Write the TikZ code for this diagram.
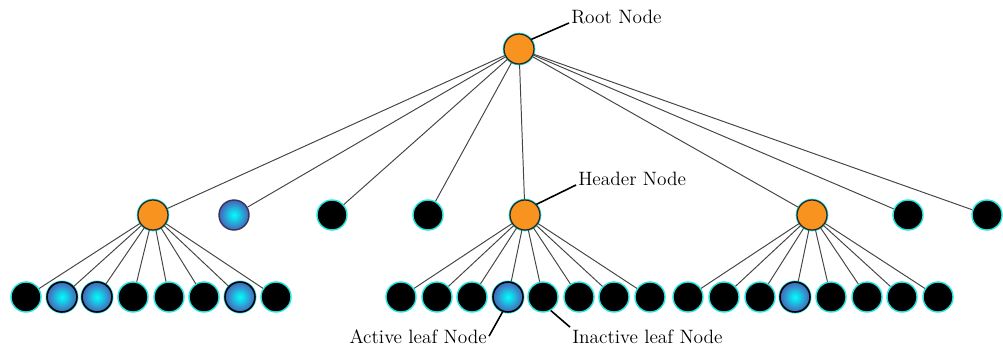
\documentclass[tikz,border=0pt]{standalone}
\usetikzlibrary{positioning}
\definecolor{corange}{HTML}{F7931E}
\definecolor{cring}{HTML}{22E5E0}
\definecolor{cblue}{HTML}{4862B8}
\definecolor{cdark}{HTML}{34345E}
\definecolor{cedge}{HTML}{444444}
\tikzset{
  every picture/.style={line width=0.6pt},
  dot/.style={circle, inner sep=0pt, minimum size=0.6cm},
  header/.style={dot, fill=corange, draw=black!85, line width=0.7pt, preaction={draw=cring, line width=1.5pt}},
  leaf/.style={dot, fill=black, draw=cring, line width=0.8pt},
  active/.style={dot, inner color=cyan, outer color=cblue, draw=black, line width=0.9pt, preaction={draw=cring, line width=1.7pt}},
  spare/.style={dot, inner color=cyan, outer color=cblue, draw=cdark, line width=0.8pt},
  link/.style={draw=cedge, line width=0.55pt},
  pinline/.style={draw=black, line width=0.9pt},
  lbl/.style={font=\fontsize{11}{13}\selectfont, inner sep=1pt},
}

\begin{document}
\begin{tikzpicture}[x=0.02cm, y=-0.02cm]
  \useasboundingbox (0,0) rectangle (1003,352);

  % root
  \node[header] (root) at (519,49) {};

  % second level
  \node[header] (hA) at (153,215) {};
  \node[spare]  (s1) at (234,215) {};
  \node[leaf]   (s2) at (332,215) {};
  \node[leaf]   (s3) at (428,215) {};
  \node[header] (hB) at (525,215) {};
  \node[header] (hC) at (812,215) {};
  \node[leaf]   (s4) at (908,215) {};
  \node[leaf]   (s5) at (987,215) {};
  \draw[link] (root) -- (hA);
  \draw[link] (root) -- (s1);
  \draw[link] (root) -- (s2);
  \draw[link] (root) -- (s3);
  \draw[link] (root) -- (hB);
  \draw[link] (root) -- (hC);
  \draw[link] (root) -- (s4);
  \draw[link] (root) -- (s5);

  % left leaves
  \node[leaf]   (a1) at (26,297) {};
  \node[active] (a2) at (62,297) {};
  \node[active] (a3) at (97,297) {};
  \node[leaf]   (a4) at (133,297) {};
  \node[leaf]   (a5) at (169,297) {};
  \node[leaf]   (a6) at (204,297) {};
  \node[active] (a7) at (240,297) {};
  \node[leaf]   (a8) at (276,297) {};
  \draw[link] (hA) -- (a1);
  \draw[link] (hA) -- (a2);
  \draw[link] (hA) -- (a3);
  \draw[link] (hA) -- (a4);
  \draw[link] (hA) -- (a5);
  \draw[link] (hA) -- (a6);
  \draw[link] (hA) -- (a7);
  \draw[link] (hA) -- (a8);

  % middle leaves
  \node[leaf]   (b1) at (401,297) {};
  \node[leaf]   (b2) at (437,297) {};
  \node[leaf]   (b3) at (472,297) {};
  \node[active] (b4) at (508,297) {};
  \node[leaf]   (b5) at (543,297) {};
  \node[leaf]   (b6) at (579,297) {};
  \node[leaf]   (b7) at (614,297) {};
  \node[leaf]   (b8) at (650,297) {};
  \draw[link] (hB) -- (b1);
  \draw[link] (hB) -- (b2);
  \draw[link] (hB) -- (b3);
  \draw[link] (hB) -- (b4);
  \draw[link] (hB) -- (b5);
  \draw[link] (hB) -- (b6);
  \draw[link] (hB) -- (b7);
  \draw[link] (hB) -- (b8);

  % right leaves
  \node[leaf]   (c1) at (688,297) {};
  \node[leaf]   (c2) at (724,297) {};
  \node[leaf]   (c3) at (760,297) {};
  \node[active] (c4) at (795,297) {};
  \node[leaf]   (c5) at (831,297) {};
  \node[leaf]   (c6) at (867,297) {};
  \node[leaf]   (c7) at (902,297) {};
  \node[leaf]   (c8) at (938,297) {};
  \draw[link] (hC) -- (c1);
  \draw[link] (hC) -- (c2);
  \draw[link] (hC) -- (c3);
  \draw[link] (hC) -- (c4);
  \draw[link] (hC) -- (c5);
  \draw[link] (hC) -- (c6);
  \draw[link] (hC) -- (c7);
  \draw[link] (hC) -- (c8);

  % labels
  \node[lbl, anchor=base west] (rootlbl) at (569,23) {Root Node};
  \draw[pinline] (root.38) -- (rootlbl.base west);
  \node[lbl, anchor=base west] (hdrlbl) at (576,185) {Header Node};
  \draw[pinline] (hB.43) -- (hdrlbl.base west);
  \node[lbl, anchor=base east] (actlbl) at (489,343) {Active leaf Node};
  \draw[pinline] (b4.-110) -- (actlbl.east);
  \node[lbl, anchor=base west] (inactlbl) at (570,343) {Inactive leaf Node};
  \draw[pinline] (b5.-60) -- (inactlbl.north west);
\end{tikzpicture}
\end{document}
